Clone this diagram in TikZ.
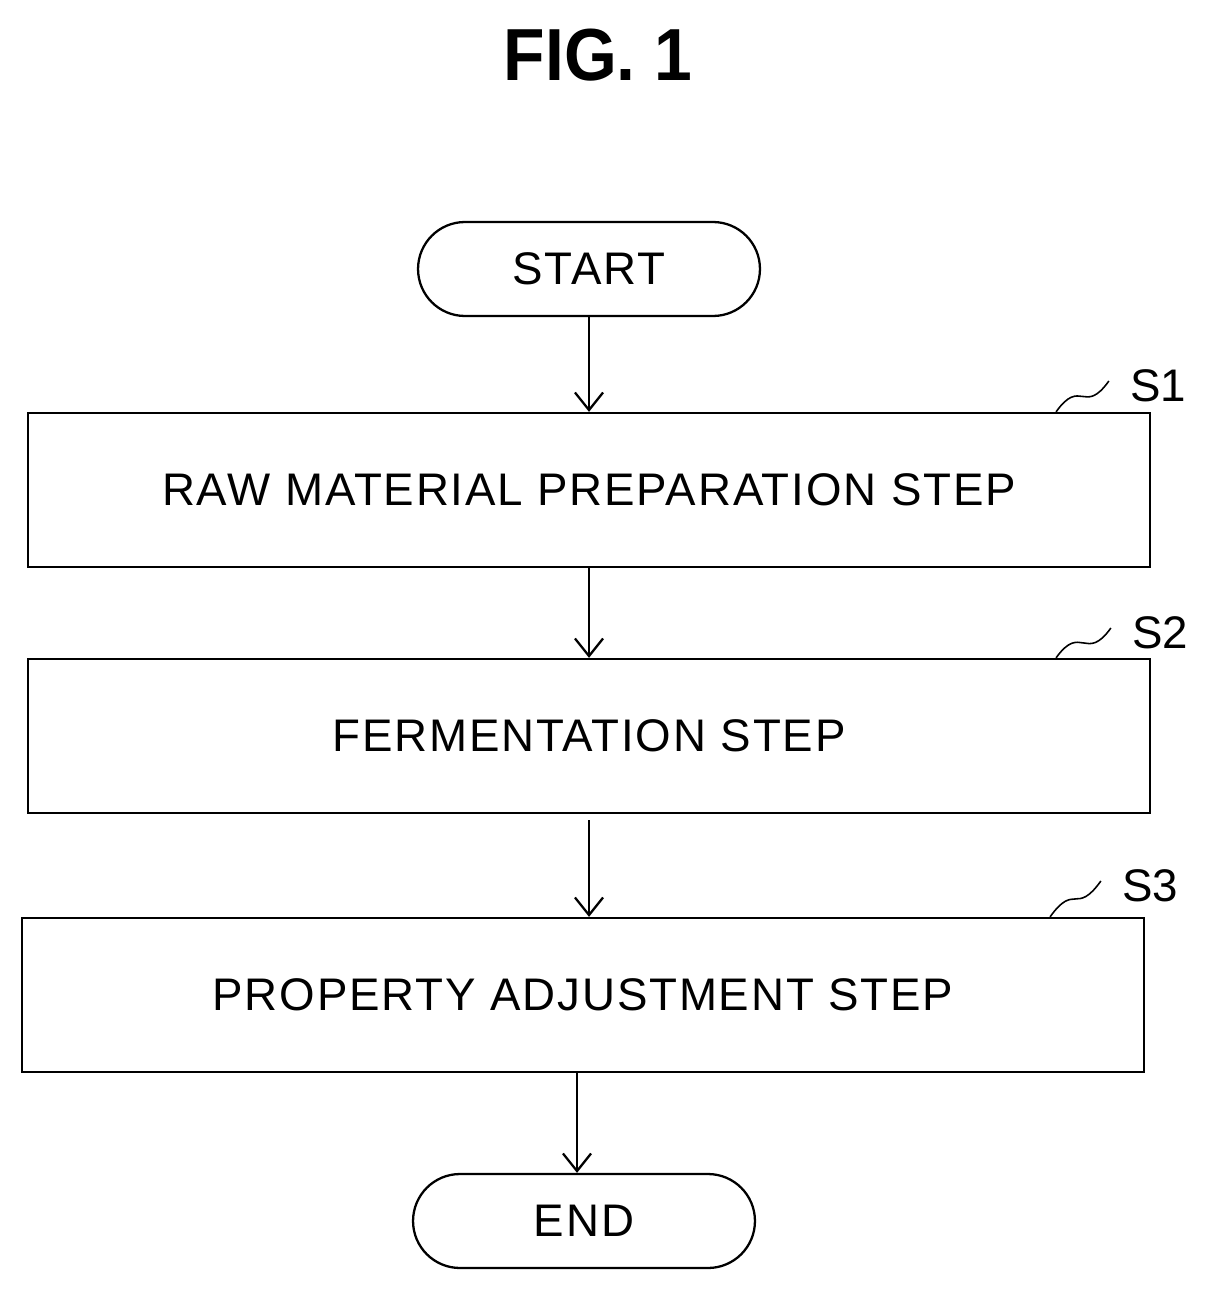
\documentclass[tikz,border=0pt]{standalone}
\usepackage{fontspec}
\setmainfont{Liberation Sans}
\usetikzlibrary{arrows.meta}

\tikzset{
  process/.style={draw, line width=1.3pt, minimum width=22.44cm, minimum height=3.08cm, font=\fontsize{26}{30}\selectfont\addfontfeature{LetterSpace=4}},
  terminal/.style={draw, line width=1.3pt, rounded corners=0.94cm, minimum width=6.84cm, minimum height=1.88cm, font=\fontsize{26}{30}\selectfont\addfontfeature{LetterSpace=4}},
  flow/.style={line width=1.3pt, -{Straight Barb[length=10pt, width=16pt, line width=1.3pt]}},
  steplabel/.style={font=\fontsize{26}{30}\selectfont},
}

\begin{document}
\begin{tikzpicture}[x=0.02cm, y=-0.02cm]
  \useasboundingbox (0,0) rectangle (1206,1294);

  % title
  \node (title) at (598,55) {\fontsize{42}{48}\selectfont\bfseries\addfontfeature{FakeStretch=0.92}FIG. 1};

  % nodes
  \node[terminal] (start) at (589,269) {START};
  \node[process] (rawprep) at (589,490) {RAW MATERIAL PREPARATION STEP};
  \node[process] (ferment) at (589,736) {FERMENTATION STEP};
  \node[process] (adjust) at (583,995) {PROPERTY ADJUSTMENT STEP};
  \node[terminal] (stop) at (584,1221) {END};

  % step labels
  \node[steplabel] (s1) at (1158,386) {S1};
  \node[steplabel] (s2) at (1160,633) {S2};
  \node[steplabel] (s3) at (1150,886) {S3};
  \foreach \lbl/\bx in {s1/rawprep, s2/ferment, s3/adjust}
    \draw[line width=0.9pt] ([xshift=-1.9cm]\bx.north east) .. controls +(0.5cm,0.7cm) and +(-0.5cm,-0.7cm) .. ([xshift=-0.3cm,yshift=0.1cm]\lbl.west);

  % arrows
  \draw[flow] (start) -- (start |- rawprep.north);
  \draw[flow] (rawprep) -- (rawprep |- ferment.north);
  \draw[flow] ([yshift=-0.12cm]ferment.south) -- (ferment |- adjust.north);
  \draw[flow] ([xshift=-0.12cm]adjust.south) -- ([xshift=-0.12cm]adjust.south |- stop.north);
\end{tikzpicture}
\end{document}
